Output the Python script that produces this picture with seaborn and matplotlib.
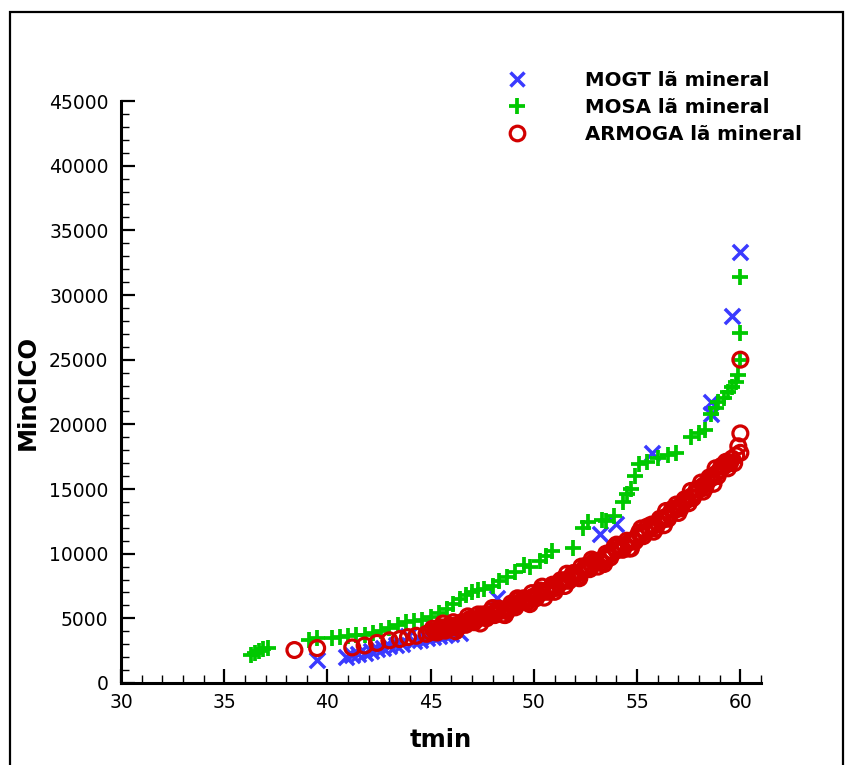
import numpy as np
import pandas as pd
import matplotlib
matplotlib.use("Agg")
import matplotlib.pyplot as plt
import seaborn as sns
from matplotlib.ticker import MultipleLocator
from matplotlib.lines import Line2D
from matplotlib.patches import Rectangle

# ---------------- data ----------------
mogt_t = [39.5, 40.9, 41.2, 41.5, 41.8, 42.1, 42.4, 42.7, 43.0, 43.3, 43.6, 43.9,
          44.2, 44.5, 44.8, 45.1, 45.4, 45.7, 46.0, 46.4, 45.1, 48.2, 53.2, 54.0,
          55.7, 58.6, 58.6, 59.6, 60.0]
mogt_v = [1800, 2000, 2150, 2250, 2350, 2450, 2600, 2700, 2850, 2950, 3050, 3600,
          3250, 3350, 3450, 3550, 3650, 3750, 3800, 3900, 4300, 6550, 11550, 12300,
          17750, 20800, 21700, 28400, 33300]

mosa_t = [36.3, 36.5, 36.7, 36.9, 37.1, 39.1, 39.5, 40.2, 40.6, 41.0, 41.4, 41.8,
          42.2, 42.6, 43.0, 43.4, 43.8, 44.2, 44.6, 45.0, 45.4, 45.8, 46.1, 46.4,
          46.7, 47.0, 47.3, 47.6, 48.0, 48.3, 48.7, 49.1, 49.5, 49.8, 50.3, 50.6,
          50.9, 51.9, 52.4, 52.6, 53.3, 53.5, 53.9, 54.3, 54.5, 54.7, 54.9, 55.1,
          55.5, 56.0, 56.5, 56.9, 57.6, 58.0, 58.3, 58.6, 58.8, 58.9, 59.2, 59.4,
          59.6, 59.8, 59.9, 60.0, 60.0, 60.0]
mosa_v = [2200, 2350, 2450, 2600, 2700, 3300, 3500, 3450, 3550, 3650, 3700, 3750,
          3900, 4000, 4250, 4500, 4700, 4800, 4900, 5100, 5400, 5700, 6100, 6500,
          6800, 7000, 7200, 7300, 7500, 7900, 8200, 8600, 9100, 9000, 9400, 9800,
          10200, 10400, 12000, 12450, 12600, 12500, 12950, 14000, 14600, 15000, 16000, 16900,
          17100, 17400, 17600, 17800, 19000, 19300, 19600, 20800, 21300, 21700, 22000, 22500,
          22900, 23300, 23800, 25000, 27100, 31400]

armoga_t = [38.4, 39.5, 41.2, 41.8, 42.4, 43.0, 43.5, 43.9, 44.3, 44.8,
            45.0, 45.2, 45.4, 45.6, 45.8, 46.0, 46.2, 46.4, 46.6, 46.8,
            47.0, 47.2, 47.4, 47.6, 47.8, 48.0, 48.2, 48.4, 48.6, 48.8,
            49.0, 49.2, 49.4, 49.6, 49.8, 50.0, 50.2, 50.4, 50.6, 50.8,
            51.0, 51.2, 51.4, 51.6, 51.8, 52.0, 52.2, 52.4, 52.6, 52.8,
            53.0, 53.2, 53.4, 53.6, 53.8, 54.0, 54.2, 54.4, 54.6, 54.8,
            55.0, 55.2, 55.4, 55.6, 55.8, 56.0, 56.2, 56.4, 56.6, 56.8,
            57.0, 57.2, 57.4, 57.6, 57.8, 58.0, 58.2, 58.4, 58.6, 58.8,
            59.0, 59.2, 59.4, 59.6, 59.8, 60.0,
            45.1, 45.3, 45.5, 45.7, 45.9, 46.3, 46.5, 46.7, 46.9, 47.1,
            47.5, 47.7, 47.9, 48.1, 48.3, 48.7, 48.9, 49.1, 49.5, 49.7,
            49.9, 50.1, 50.3, 50.7, 50.9, 51.1, 51.3, 51.7, 51.9, 52.1,
            52.5, 52.7, 52.9, 53.3, 53.5, 53.7, 54.1, 54.3, 54.5, 54.9,
            55.1, 55.3, 55.7, 55.9, 56.1, 56.5, 56.7, 57.1, 57.3, 57.7,
            57.9, 58.3, 58.5, 58.9, 59.1, 59.5,
            45.6, 46.2, 46.8, 47.4, 48.0, 48.6, 49.2, 49.8, 50.4, 51.0,
            51.6, 52.2, 52.8, 53.4, 54.0, 54.6, 55.2, 55.8, 56.4, 57.0,
            57.6, 58.2, 58.8, 59.4,
            46.1, 47.3, 48.5, 49.3, 50.5, 51.5, 52.3, 53.1, 53.9, 54.7,
            55.5, 56.3, 56.9, 57.5, 58.1, 58.7, 59.3, 59.7, 59.9, 60.0, 60.0]
armoga_v = [2550, 2700, 2750, 2900, 3100, 3300, 3400, 3550, 3650, 3800,
            3950, 4000, 4100, 4150, 4250, 4300, 4450, 4500, 4600, 4700,
            4850, 4900, 5050, 5150, 5250, 5350, 5500, 5600, 5700, 5850,
            6000, 6100, 6300, 6400, 6550, 6700, 6850, 7000, 7150, 7300,
            7500, 7650, 7850, 8000, 8200, 8350, 8550, 8750, 8900, 9100,
            9300, 9450, 9650, 9850, 10050, 10250, 10450, 10650, 10850, 11050,
            11300, 11500, 11700, 11900, 12150, 12350, 12600, 12850, 13100, 13350,
            13600, 13850, 14150, 14400, 14650, 14950, 15250, 15550, 15850, 16150,
            16450, 16750, 17050, 17350, 17600, 17800,
            4200, 3900, 4300, 4050, 4450, 4250, 4700, 4500, 4950, 4700,
            5300, 5000, 5550, 5250, 5750, 5550, 6150, 5850, 6550, 6250,
            6950, 6550, 7150, 7050, 7600, 7350, 7950, 7900, 8500, 8200,
            9050, 8800, 9400, 9300, 10000, 9700, 10600, 10300, 11000, 10950,
            11650, 11350, 12250, 11950, 12700, 12700, 13450, 13500, 14200, 14300,
            15000, 15100, 15900, 16000, 16800, 17000,
            4600, 4000, 5150, 4600, 5800, 5250, 6550, 6100, 7450, 7050,
            8450, 8100, 9550, 9200, 10700, 10400, 11950, 11700, 13300, 13150,
            14850, 14800, 16600, 16600,
            4700, 5300, 5300, 6500, 6600, 7500, 9000, 9000, 10500, 10400,
            12100, 12200, 13800, 13900, 15500, 15400, 17100, 17000, 18300, 19300, 25000]

labels = ["MOGT lã mineral", "MOSA lã mineral", "ARMOGA lã mineral"]
x_ticks = [30, 35, 40, 45, 50, 55, 60]
y_ticks = [0, 5000, 10000, 15000, 20000, 25000, 30000, 35000, 40000, 45000]

BLUE = "#3a3aff"
GREEN = "#00c800"
RED = "#d20000"

# ---------------- figure ----------------
sns.set_theme(style="white")
plt.rcParams["font.family"] = ["DejaVu Sans"]
plt.rcParams["text.color"] = "black"
plt.rcParams["axes.labelcolor"] = "black"
plt.rcParams["xtick.color"] = "black"
plt.rcParams["ytick.color"] = "black"

fig = plt.figure(figsize=(8.53, 7.65), dpi=100)
fig.patch.set_facecolor("white")
ax = fig.add_axes([121 / 853, 1 - 683 / 765, 640 / 853, 582 / 765])

df_mogt = pd.DataFrame({"tmin": mogt_t, "MinCICO": mogt_v})
df_mosa = pd.DataFrame({"tmin": mosa_t, "MinCICO": mosa_v})
df_arm = pd.DataFrame({"tmin": armoga_t, "MinCICO": armoga_v})

sns.scatterplot(data=df_mogt, x="tmin", y="MinCICO", marker="x", s=120,
                color=BLUE, linewidth=2.5, ax=ax, legend=False, zorder=3)
c = ax.collections[-1]
c.set_edgecolor(BLUE); c.set_facecolor(BLUE)

sns.scatterplot(data=df_mosa, x="tmin", y="MinCICO", marker="+", s=135,
                color=GREEN, linewidth=2.7, ax=ax, legend=False, zorder=4)
c = ax.collections[-1]
c.set_edgecolor(GREEN); c.set_facecolor(GREEN)

sns.scatterplot(data=df_arm, x="tmin", y="MinCICO", marker="o", s=115,
                color=RED, linewidth=2.3, ax=ax, legend=False, zorder=5)
c = ax.collections[-1]
c.set_facecolor("none"); c.set_edgecolor(RED); c.set_linewidth(2.3)

ax.set_xlim(30, 61)
ax.set_ylim(0, 45000)
ax.set_xticks(x_ticks)
ax.set_xticklabels([str(v) for v in x_ticks])
ax.set_yticks(y_ticks)
ax.set_yticklabels([str(v) for v in y_ticks])
ax.xaxis.set_minor_locator(MultipleLocator(1))
ax.yaxis.set_minor_locator(MultipleLocator(1000))

for side in ["top", "right"]:
    ax.spines[side].set_visible(False)
for side in ["left", "bottom"]:
    ax.spines[side].set_linewidth(2.2)
    ax.spines[side].set_color("black")

ax.tick_params(axis="both", which="major", direction="in", length=10, width=1.6,
               color="black", labelsize=13.5, labelcolor="black")
ax.tick_params(axis="both", which="minor", direction="in", length=5.5, width=1.0,
               color="black")
ax.tick_params(axis="x", which="major", pad=7)
ax.tick_params(axis="y", which="major", pad=9)
ax.tick_params(which="both", bottom=True, left=True, top=False, right=False)

ax.set_xlabel("tmin", fontsize=17.5, fontweight="bold", labelpad=12, color="black")
ax.set_ylabel("MinCICO", fontsize=17.5, fontweight="bold", labelpad=7, color="black")
ax.grid(False)
ax.set_facecolor("white")

handles = [
    Line2D([], [], ls="none", marker="x", color=BLUE, markersize=10.5, markeredgewidth=2.5),
    Line2D([], [], ls="none", marker="+", color=GREEN, markersize=11, markeredgewidth=2.7),
    Line2D([], [], ls="none", marker="o", markerfacecolor="none", markeredgecolor=RED,
           markersize=10.5, markeredgewidth=2.3),
]
ax.legend(handles, labels, loc="upper left", bbox_to_anchor=(507 / 853, 1 - 71 / 765),
          bbox_transform=fig.transFigure, frameon=False, borderpad=0, borderaxespad=0,
          handlelength=1.0, handletextpad=2.96, labelspacing=0.41,
          labelcolor="black",
          prop={"family": "DejaVu Sans", "weight": "bold", "size": 14.2})

# outer frame
fig.patches.append(Rectangle((10 / 853, -0.1), (843 - 10) / 853, 0.1 + 1 - 12 / 765,
                             transform=fig.transFigure, fill=False, edgecolor="black",
                             linewidth=1.6, zorder=0))

fig.savefig("out.png", dpi=100)
